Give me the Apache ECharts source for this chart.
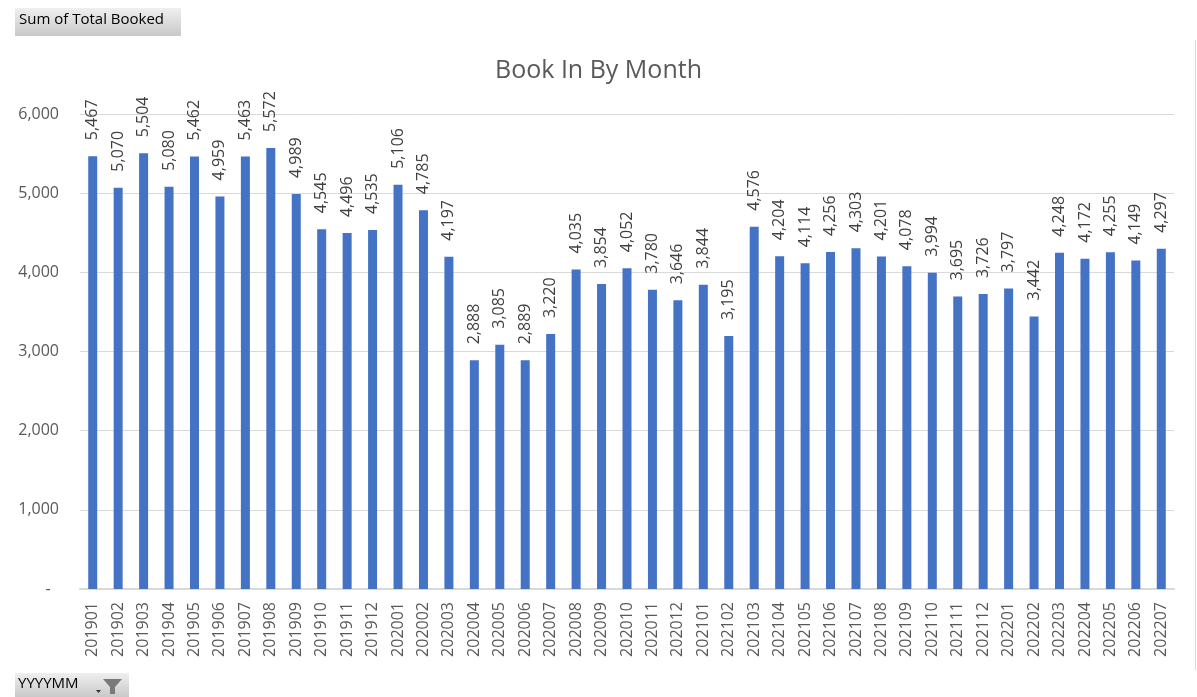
<!DOCTYPE html>
<html>
<head>
<meta charset="utf-8">
<script src="https://cdn.jsdelivr.net/npm/echarts@6/dist/echarts.min.js"></script>
<style>
  html, body { margin: 0; padding: 0; background: #fff; }
  #main { width: 1197px; height: 697px; }
</style>
</head>
<body>
<div id="main"></div>
<script>
var months = ['201901','201902','201903','201904','201905','201906','201907','201908','201909','201910','201911','201912',
  '202001','202002','202003','202004','202005','202006','202007','202008','202009','202010','202011','202012',
  '202101','202102','202103','202104','202105','202106','202107','202108','202109','202110','202111','202112',
  '202201','202202','202203','202204','202205','202206','202207'];
var booked = [5467, 5070, 5504, 5080, 5462, 4959, 5463, 5572, 4989, 4545, 4496, 4535,
  5106, 4785, 4197, 2888, 3085, 2889, 3220, 4035, 3854, 4052, 3780, 3646,
  3844, 3195, 4576, 4204, 4114, 4256, 4303, 4201, 4078, 3994, 3695, 3726,
  3797, 3442, 4248, 4172, 4255, 4149, 4297];

var FONT = '"Open Sans", "Noto Sans", sans-serif';

// accounting style: zero shows as a dash
function fmt(v) {
    if (v === 0) return '-  ';
    return v.toLocaleString('en-US');
}

var chart = echarts.init(document.getElementById('main'), null, { renderer: 'canvas' });

chart.setOption({
    animation: false,
    title: {
        text: 'Book In By Month',
        left: 'center',
        top: 53,
        textStyle: { color: '#595959', fontSize: 25, fontWeight: 'normal', fontFamily: FONT }
    },
    grid: { left: 80, right: 23, top: 114, bottom: 108 },
    xAxis: {
        type: 'category',
        data: months,
        axisLine: { lineStyle: { color: '#d9d9d9', width: 2 } },
        axisTick: { show: false },
        axisLabel: { rotate: 90, color: '#595959', fontSize: 16, fontFamily: FONT, margin: 13, interval: 0 }
    },
    yAxis: {
        type: 'value',
        min: 0,
        max: 6000,
        interval: 1000,
        axisLine: { show: false },
        axisTick: { show: false },
        splitLine: { lineStyle: { color: '#d9d9d9', width: 1 } },
        axisLabel: { color: '#595959', fontSize: 16, fontFamily: FONT, margin: 21, formatter: fmt }
    },
    series: [{
        type: 'bar',
        data: booked,
        barWidth: 9,
        itemStyle: { color: '#4472c4' },
        label: {
            show: true,
            position: 'top',
            rotate: 90,
            align: 'left',
            verticalAlign: 'middle',
            distance: 16,
            color: '#404040',
            fontSize: 16,
            fontFamily: FONT,
            formatter: function (p) { return fmt(p.value); }
        }
    }],
    graphic: [
        {
            type: 'line',
            shape: { x1: 1195.5, y1: 40, x2: 1195.5, y2: 670 },
            style: { stroke: '#d9d9d9', lineWidth: 1 }
        },
        {
            type: 'rect',
            shape: { x: 15, y: 8, width: 166, height: 28 },
            style: {
                fill: new echarts.graphic.LinearGradient(0, 0, 0, 1, [
                    { offset: 0, color: '#efefef' },
                    { offset: 1, color: '#c9c9c9' }
                ])
            }
        },
        {
            type: 'text',
            left: 19,
            top: 12,
            style: { text: 'Sum of Total Booked', fill: '#000', fontSize: 15, fontFamily: FONT }
        },
        {
            type: 'rect',
            shape: { x: 15, y: 673, width: 114, height: 24 },
            style: {
                fill: new echarts.graphic.LinearGradient(0, 0, 0, 1, [
                    { offset: 0, color: '#efefef' },
                    { offset: 1, color: '#c9c9c9' }
                ])
            }
        },
        {
            type: 'text',
            left: 18,
            top: 676,
            style: { text: 'YYYYMM', fill: '#000', fontSize: 15, fontFamily: FONT }
        },
        {
            type: 'polygon',
            shape: { points: [[96, 690], [101, 690], [98.5, 693]] },
            style: { fill: '#333' }
        },
        {
            type: 'polygon',
            shape: { points: [[103, 679], [122, 679], [115, 687], [115, 694], [110, 694], [110, 687]] },
            style: { fill: '#7a7a7a' }
        }
    ]
});
</script>
</body>
</html>
